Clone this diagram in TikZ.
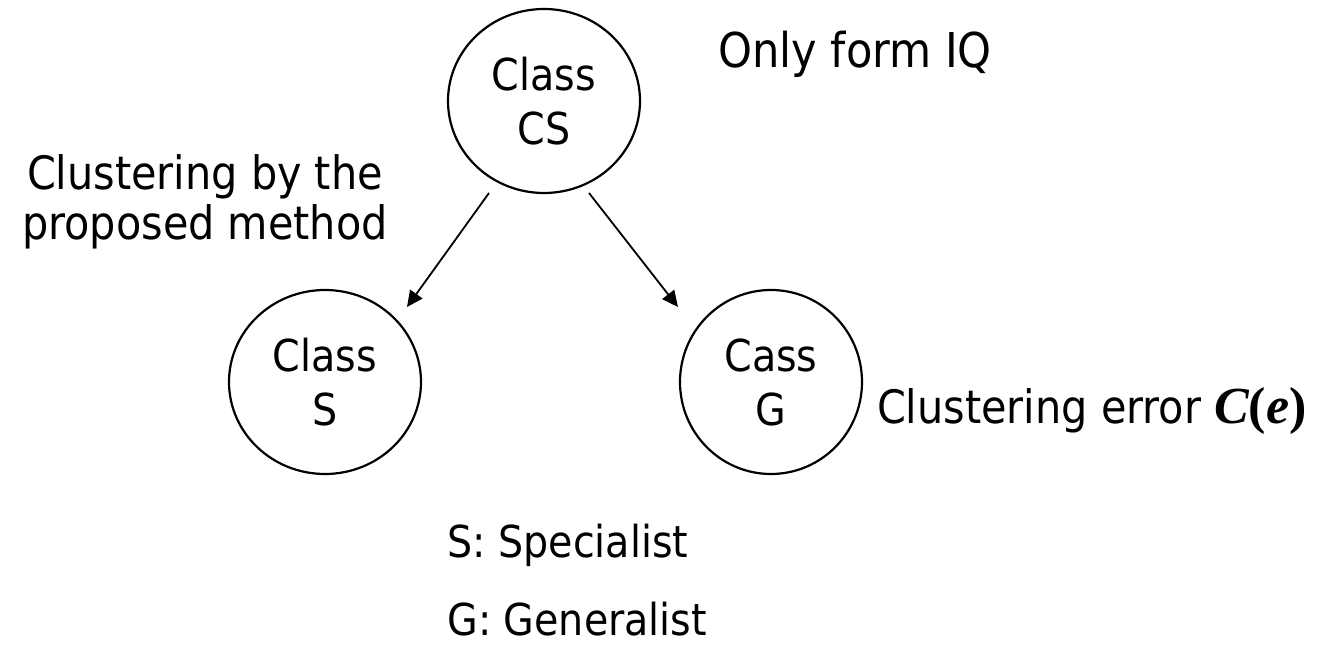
\documentclass[tikz,border=0pt]{standalone}
\usepackage{fontspec}
\setmainfont{DejaVu Sans Condensed}
\newfontfamily\serifm{Liberation Serif}
\usetikzlibrary{arrows.meta,shapes.geometric}
\begin{document}
\begin{tikzpicture}[x=0.5pt,y=-0.5pt,
  cls/.style={draw,line width=1.1pt,ellipse,minimum width=96pt,minimum height=92pt,inner sep=0pt,align=center,font=\fontsize{22pt}{27pt}\selectfont},
  lbl/.style={inner sep=0pt,font=\fontsize{22pt}{27pt}\selectfont},
  midlbl/.style={inner sep=0pt,font=\fontsize{23pt}{25pt}\selectfont},
  biglbl/.style={inner sep=0pt,font=\fontsize{24pt}{25pt}\selectfont},
  arr/.style={line width=0.9pt,-{Triangle[length=8pt,width=7.5pt]}}]
\useasboundingbox (0,0) rectangle (1319,651);
\node[cls] (cs) at (544,101) {Class\\CS};
\node[cls] (s) at (325,382) {Class\\S};
\node[cls,minimum width=91pt] (g) at (771,382) {Cass\\G};
\coordinate (a1) at (489,193);
\coordinate (a2) at (407,307);
\coordinate (b1) at (589,193);
\coordinate (b2) at (678,307);
\draw[arr] (a1) -- (a2);
\draw[arr] (b1) -- (b2);
\node[midlbl,anchor=base,align=center] (cl) at (205,240) {Clustering by the\\proposed method};
\node[biglbl,anchor=base west] (iq) at (718,68) {Only form IQ};
\node[midlbl,anchor=base east] (ce) at (1307,424) {Clustering error {\serifm\fontsize{26pt}{30pt}\selectfont\bfseries\itshape C\upshape(\itshape e\upshape)}};
\node[lbl,anchor=base west] (sp) at (447,558) {S: Specialist};
\node[lbl,anchor=base west] (ge) at (447,636) {G: Generalist};
\end{tikzpicture}
\end{document}
